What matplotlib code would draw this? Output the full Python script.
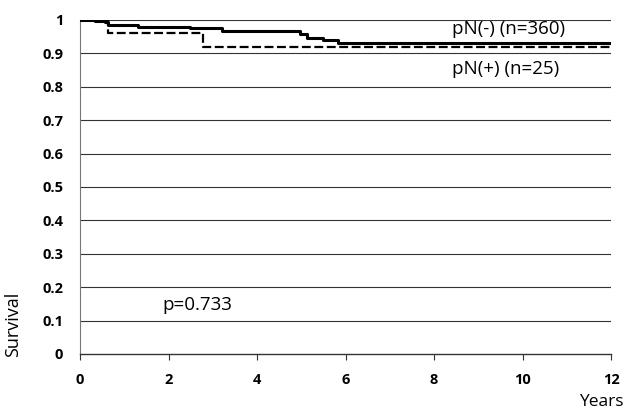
import matplotlib
matplotlib.use("Agg")
import matplotlib.pyplot as plt

# Kaplan-Meier step data (years, survival)
neg_t = [0, 0.35, 0.56, 0.63, 1.31, 2.49, 3.21, 4.97, 5.13, 5.5, 5.83, 12]
neg_s = [1.0, 0.998, 0.995, 0.985, 0.98, 0.975, 0.966, 0.957, 0.946, 0.94, 0.932, 0.932]
pos_t = [0, 0.63, 2.78, 12]
pos_s = [1.0, 0.96, 0.92, 0.92]

xticks = [0, 2, 4, 6, 8, 10, 12]
yticks = [0, 0.1, 0.2, 0.3, 0.4, 0.5, 0.6, 0.7, 0.8, 0.9, 1]
ylabels = ["0", "0.1", "0.2", "0.3", "0.4", "0.5", "0.6", "0.7", "0.8", "0.9", "1"]

plt.rcParams['font.family'] = ['Open Sans', 'DejaVu Sans']

fig = plt.figure(figsize=(6.25, 4.12), dpi=100)
ax = fig.add_axes([0.128, 0.1408, 0.8496, 0.8107])

for y in yticks[1:]:
    ax.axhline(y, color='#333333', lw=0.8, zorder=1)

ax.step(neg_t, neg_s, where='post', color='black', lw=2.2, zorder=3)
ax.step(pos_t, pos_s, where='post', color='black', lw=1.6, ls=(0, (4, 1.6)), zorder=3)

ax.set_xlim(0, 12)
ax.set_ylim(0, 1)
ax.set_xticks(xticks)
ax.set_xticklabels([str(x) for x in xticks], fontweight='bold', fontsize=10.5)
ax.set_yticks(yticks)
ax.set_yticklabels(ylabels, fontweight='bold', fontsize=10.5)
ax.tick_params(axis='x', direction='out', length=4, pad=10, color='#333333')
ax.tick_params(axis='y', length=0, pad=12)

for s in ['top', 'right']:
    ax.spines[s].set_visible(False)
ax.spines['left'].set_color('#777777')
ax.spines['left'].set_linewidth(0.8)
ax.spines['bottom'].set_color('#333333')
ax.spines['bottom'].set_linewidth(1.0)

ax.text(8.4, 0.972, "pN(-) (n=360)", fontsize=13.5, va='center', ha='left')
ax.text(8.4, 0.852, "pN(+) (n=25)", fontsize=13.5, va='center', ha='left')
ax.text(1.87, 0.148, "p=0.733", fontsize=13.5, va='center', ha='left')

fig.text(0.006, 0.133, "Survival", rotation=90, fontsize=13, ha='left', va='bottom')
fig.text(0.998, 0.004, "Years", fontsize=12.5, ha='right', va='bottom')

fig.savefig("out.png", dpi=100)
